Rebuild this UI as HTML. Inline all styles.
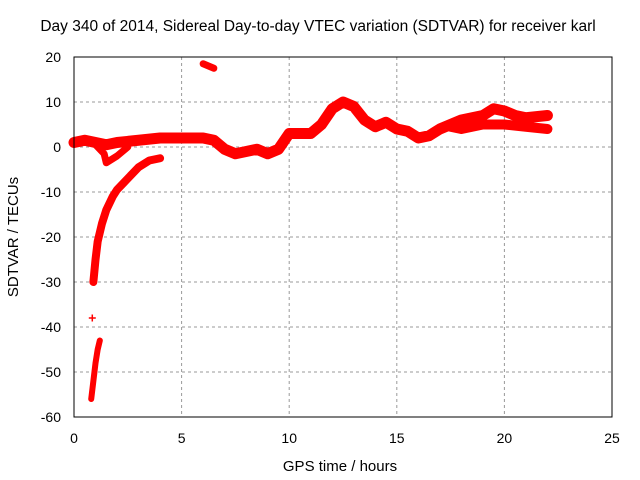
<!DOCTYPE html>
<html><head><meta charset="utf-8"><style>
body{margin:0;background:#fff}
svg{display:block;font-family:"Liberation Sans",sans-serif}
</style></head><body>
<svg id="chart" width="640" height="480">
<text x="318" y="31" font-size="15.5" text-anchor="middle">Day 340 of 2014, Sidereal Day-to-day VTEC variation (SDTVAR) for receiver karl</text>
<g id="grid"></g>
<g id="marks"></g>
<rect x="74" y="57" width="538" height="360" fill="none" stroke="#000" stroke-width="1"/>
<g id="ticks" font-size="14"></g>
<text x="340" y="471" font-size="15" text-anchor="middle">GPS time / hours</text>
<text transform="translate(18,237) rotate(-90)" font-size="15" text-anchor="middle">SDTVAR / TECUs</text>
</svg>
<script>
const xTicks=[0,5,10,15,20,25];
const yTicks=[20,10,0,-10,-20,-30,-40,-50,-60];
const mainBand=[[0,1],[0.5,1.5],[1,1],[1.5,0.5],[2,1],[3,1.5],[4,2],[5,2],[6,2],[6.5,1.5],[7,-0.5],[7.5,-1.5],[8,-1],[8.5,-0.5],[9,-1.5],[9.5,-0.5],[10,3],[10.5,3],[11,3],[11.5,5],[12,8.5],[12.5,10],[13,9],[13.5,6],[14,4.5],[14.5,5.5],[15,4],[15.5,3.5],[16,2],[16.5,2.5],[17,4],[17.5,5],[18,6],[19,7],[19.5,8.5],[20,8],[20.5,7],[21,6.5],[22,7]];
const lowerBand=[[17.5,4.5],[18,4],[19,5],[20,5],[21,4.5],[22,4]];
const branch=[[1,0.5],[1.4,-1.5],[1.5,-3.5],[2,-2],[2.5,0]];
const recovery=[[0.9,-30],[1,-25],[1.1,-21],[1.3,-17],[1.5,-14],[1.8,-11],[2,-9.5],[2.5,-7],[3,-4.5],[3.5,-3],[4,-2.5]];
const lowSegment=[[0.8,-56],[0.9,-52],[1,-48],[1.1,-45],[1.2,-43]];
const topBlob=[[6.0,18.5],[6.5,17.5]];
const isolated=[[0.85,-38]];
const X=h=>74+h*538/25, Y=v=>417-(v+60)*360/80;
const NS="http://www.w3.org/2000/svg";
const grid=document.getElementById('grid'),ticks=document.getElementById('ticks'),marks=document.getElementById('marks');
function mk(tag,at,parent){const e=document.createElementNS(NS,tag);for(const k in at)e.setAttribute(k,at[k]);parent.appendChild(e);return e;}
xTicks.forEach(t=>{
  if(t>0&&t<25){const g=mk('line',{x1:X(t),x2:X(t),y1:57,y2:417,stroke:'#999','stroke-dasharray':'3,3'},grid);
  
  }
  const l=mk('text',{x:X(t),y:443,'text-anchor':'middle'},ticks);l.textContent=t;
  
  
});
yTicks.forEach(t=>{
  if(t>-60&&t<20){const g=mk('line',{x1:74,x2:612,y1:Y(t),y2:Y(t),stroke:'#999','stroke-dasharray':'3,3'},grid);
  
  }
  const l=mk('text',{x:61,y:Y(t)+5,'text-anchor':'end'},ticks);l.textContent=t;
  
  
});
function band(pts,w,name){
  const p=mk('polyline',{points:pts.map(d=>X(d[0])+','+Y(d[1])).join(' '),fill:'none',stroke:'#f00','stroke-width':w,'stroke-linejoin':'round','stroke-linecap':'round'},marks);
  
  
}
band(mainBand,11,'sdtvar-main-band');
band(lowerBand,10,'sdtvar-lower-band');
band(branch,7,'sdtvar-branch');
band(recovery,8,'sdtvar-recovery-curve');
band(lowSegment,6,'sdtvar-low-segment');
band(topBlob,7,'sdtvar-top-blob');
isolated.forEach(d=>{
  const p=mk('path',{d:`M${X(d[0])-3.5},${Y(d[1])}h7M${X(d[0])},${Y(d[1])-3.5}v7`,stroke:'#f00','stroke-width':1.5},marks);
  
  
});
</script>
</body></html>
